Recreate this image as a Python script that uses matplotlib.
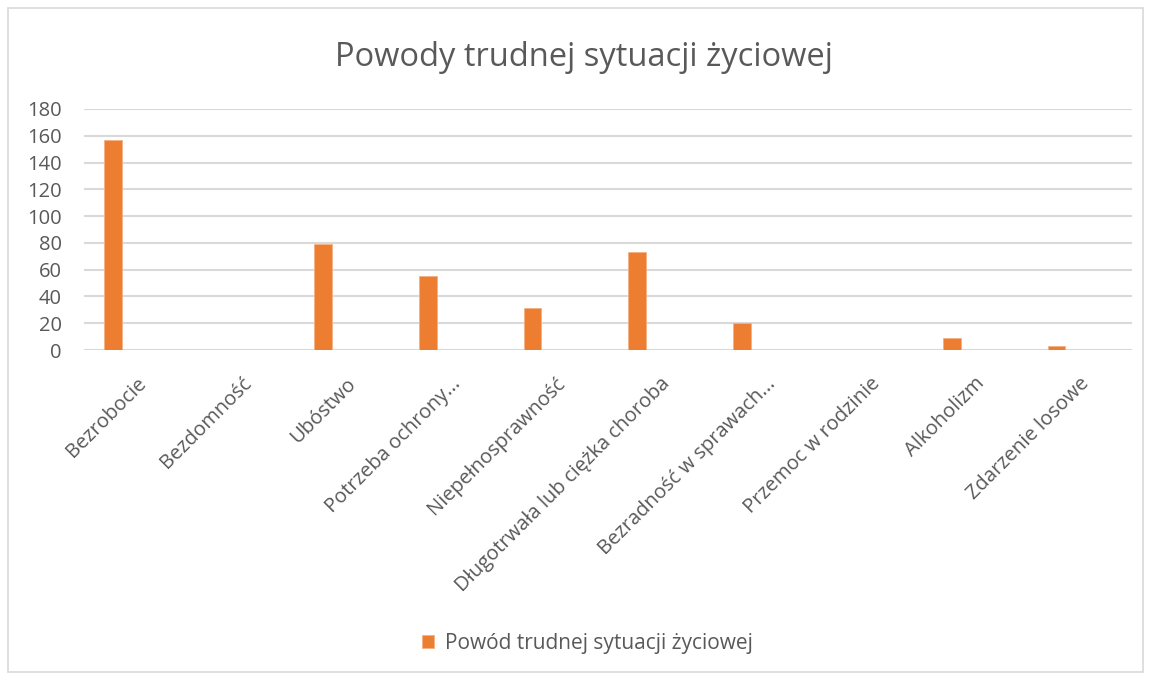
import numpy as np
import matplotlib
matplotlib.use("Agg")
import matplotlib.pyplot as plt
from matplotlib.patches import Rectangle

categories = ["Bezrobocie", "Bezdomność", "Ubóstwo", "Potrzeba ochrony...",
              "Niepełnosprawność", "Długotrwała lub ciężka choroba",
              "Bezradność w sprawach...", "Przemoc w rodzinie",
              "Alkoholizm", "Zdarzenie losowe"]
values = [157, 0, 79, 55, 31, 73, 20, 0, 9, 3]
series_name = "Powód trudnej sytuacji życiowej"
title = "Powody trudnej sytuacji życiowej"
y_ticks = [0, 20, 40, 60, 80, 100, 120, 140, 160, 180]

plt.rcParams["font.family"] = ["Open Sans", "DejaVu Sans"]
text_color = "#595959"
bar_color = "#ED7D31"

fig = plt.figure(figsize=(11.51, 6.75), dpi=100)
ax = fig.add_axes([84 / 1151, 1 - 350 / 675, (1132 - 84) / 1151, (350 - 109) / 675])

x = np.arange(len(categories))
ax.bar(x - 0.22, values, width=0.17, color=bar_color, label=series_name,
       edgecolor="#F4B183", linewidth=0.6, zorder=3)

ax.set_xlim(-0.5, len(categories) - 0.5)
ax.set_ylim(0, 180)
ax.set_yticks(y_ticks)
ax.yaxis.grid(True, color="#d9d9d9", linewidth=1.5, zorder=0)
ax.tick_params(axis="y", length=0, labelsize=14.5, labelcolor=text_color, pad=16)
ax.tick_params(axis="x", length=0, labelsize=14.5, labelcolor=text_color, pad=17)
ax.set_xticks(x)
ax.set_xticklabels(categories, rotation=45, ha="right", rotation_mode="anchor")
for s in ax.spines.values():
    s.set_visible(False)

fig.text(0.507, 1 - 57 / 675, title, ha="center", va="center", fontsize=23.5, color=text_color)

fig.legend(loc="center", bbox_to_anchor=(0.51, 1 - 643 / 675), frameon=False,
           fontsize=15, labelcolor=text_color, handlelength=0.6, handleheight=0.6,
           handletextpad=0.5)

fig.patches.append(Rectangle((8 / 1151, 0.005), 1 - 16 / 1151, 1 - 8 / 675 - 0.005,
                             transform=fig.transFigure, fill=False,
                             edgecolor="#d9d9d9", linewidth=1.2))

fig.savefig("out.png", dpi=100, facecolor="white")
